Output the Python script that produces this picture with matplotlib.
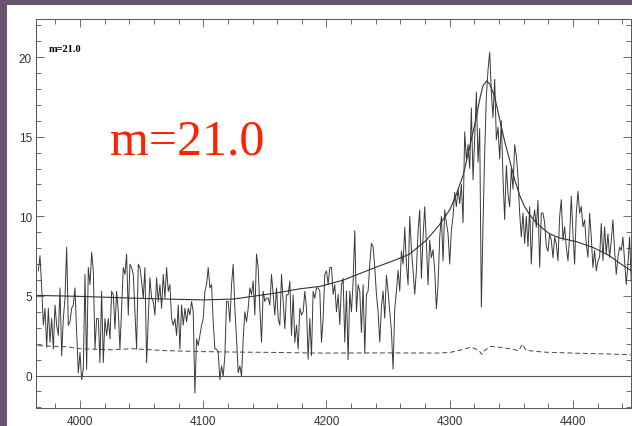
import numpy as np
import matplotlib
matplotlib.use("Agg")
import matplotlib.pyplot as plt
from matplotlib.patches import Rectangle
from matplotlib.ticker import MultipleLocator

# Observed spectrum: flux sampled on a regular pixel grid
WAVE_START = 3966.2     # Angstrom, first pixel
DISPERSION = 1.3514     # Angstrom per pixel

flux = [
    6.57, 7.53, 5.50, 3.16, 4.22, 1.77, 4.22, 2.09, 3.58, 1.66,
    4.43, 3.16, 2.52, 5.50, 1.24, 3.58, 4.86, 8.06, 3.16, 3.37,
    4.22, 4.43, 5.50, 2.73, 0.17, 1.45, -0.26, 0.38, 6.35, 0.38,
    6.78, 5.71, 7.74, 6.57, 1.66, 3.58, 3.58, 0.81, 5.29, 0.81,
    3.58, 2.52, 3.58, 2.30, 5.29, 5.07, 2.94, 5.29, 4.01, 1.66,
    4.22, 6.78, 6.35, 7.63, 3.80, 6.99, 6.78, 6.35, 4.01, 1.66,
    6.99, 6.78, 5.93, 4.86, 6.78, 0.81, 3.58, 6.14, 4.86, 4.65,
    3.80, 6.14, 4.65, 5.71, 4.22, 6.35, 4.86, 6.78, 5.29, 5.71,
    3.58, 3.16, 3.58, 2.52, 4.43, 1.66, 4.43, 3.16, 4.22, 3.37,
    4.22, 3.80, 4.65, 4.01, -1.11, 2.30, 1.88, 2.52, 3.16, 3.58,
    5.29, 5.71, 6.78, 5.50, 5.71, 3.37, 1.66, 1.66, 1.45, -0.26,
    0.60, -0.04, 1.24, 4.65, 4.65, 3.37, 5.71, 6.99, 4.22, 2.30,
    0.17, 0.60, -0.04, 2.30, 4.01, 3.37, 4.22, 5.50, 5.07, 5.93,
    3.80, 7.63, 6.78, 4.22, 2.09, 5.29, 4.65, 4.86, 4.86, 4.43,
    6.35, 5.07, 3.80, 5.50, 3.58, 3.16, 6.35, 4.65, 2.94, 5.07,
    5.07, 5.93, 2.52, 5.07, 2.09, 3.16, 1.66, 4.22, 3.80, 4.01,
    5.29, 4.22, 1.02, 3.58, 1.24, 5.29, 4.86, 5.50, 5.50, 5.29,
    2.09, 3.58, 6.35, 6.57, 5.71, 6.78,
    6.8, 5.1, 5.7, 4.0, 5.1, 3.2, 5.7, 6.1, 2.1, 5.3,
    1.0, 5.3, 4.0, 5.9, 9.1, 4.0, 5.7, 5.3, 2.7, 5.7,
    1.4, 5.1, 5.3, 7.0, 8.3, 8.1, 6.8, 5.1, 4.0, 2.1,
    4.3, 5.3, 3.6, 6.3, 5.3, 4.0, 2.8, 0.4, 4.2, 5.3,
    6.6, 5.3, 7.8, 7.0, 9.3,
    7.0, 5.7, 10.0, 7.9, 6.6, 5.1, 6.6, 9.1, 10.4, 6.1,
    8.7, 10.6, 8.3, 5.7, 8.5, 7.4, 7.9, 6.6, 4.2, 5.7,
    8.7, 10.0, 7.2, 10.4, 9.6, 8.9, 7.0, 9.1, 10.0, 11.5,
    10.6, 11.7, 10.8, 12.0, 9.6, 15.3, 13.6, 14.5, 13.0, 16.8,
    12.3, 14.9, 17.8, 13.4, 15.5,
    4.3, 9.5, 14.0, 17.5, 19.2, 20.3, 17.8, 16.2, 18.6, 14.8,
    15.6, 13.6, 16.0, 12.4, 9.8, 13.2, 11.4, 10.6, 13.0, 11.7,
    14.5, 13.8, 12.5, 10.2, 8.7, 10.2, 8.3, 10.0, 8.1, 10.6,
    7.0, 9.6, 10.4, 9.3, 11.0, 6.8, 10.2, 10.2, 9.6, 8.1,
    7.8, 8.9, 8.5, 7.4, 8.7,
    8.27, 7.21, 9.98, 11.04, 8.49, 9.34, 8.06, 7.21, 8.70, 11.26,
    8.91, 6.99, 10.19, 11.58, 10.19, 10.62, 9.34, 9.77, 8.27, 7.42,
    10.19, 8.70, 6.78, 7.85, 6.57, 7.21, 7.42, 9.55, 7.21, 9.34,
    7.63, 8.91, 7.42, 8.49, 9.77, 7.85, 6.35, 7.42, 8.06, 7.85,
    8.70, 7.21, 5.71, 6.99, 8.70, 5.93,
]

# Model fit (continuum + broad emission line)
fit_wave = [3965.4, 4000, 4043, 4070, 4100, 4124, 4140, 4159, 4178, 4195,
            4214, 4240, 4254, 4267, 4281, 4291, 4300, 4305, 4311, 4316,
            4321, 4324.5, 4327, 4330, 4332.5, 4336.5, 4340.5, 4344.6, 4348.7,
            4352.7, 4356.8, 4360.8, 4364.9, 4370, 4376, 4381, 4389, 4403,
            4416, 4424, 4430, 4438, 4447]
fit_flux = [5.03, 4.97, 4.86, 4.80, 4.75, 4.80, 4.97, 5.18, 5.44, 5.60,
            6.00, 6.80, 7.20, 7.60, 8.50, 9.40, 10.4, 11.3, 12.6, 14.3,
            16.0, 17.4, 18.2, 18.5, 18.3, 17.5, 16.1, 14.7, 13.5,
            12.3, 11.3, 10.6, 10.1, 9.6, 9.2, 8.9, 8.65, 8.4,
            8.05, 7.75, 7.5, 7.05, 6.6]

# 1-sigma error spectrum
err_wave = [3966, 3990, 4000, 4025, 4043, 4057, 4070, 4100, 4130, 4157,
            4184, 4200, 4250, 4290, 4300, 4308, 4313, 4318, 4324, 4326,
            4328, 4333, 4338, 4349, 4356, 4359, 4362, 4376, 4403, 4430, 4447]
err_flux = [1.88, 1.80, 1.68, 1.62, 1.68, 1.62, 1.56, 1.50, 1.47, 1.45,
            1.42, 1.41, 1.42, 1.41, 1.45, 1.58, 1.70, 1.77, 1.55, 1.32,
            1.55, 1.83, 1.80, 1.68, 1.56, 1.98, 1.58, 1.47, 1.40, 1.35, 1.30]

flux = np.asarray(flux)
wave = WAVE_START + DISPERSION * np.arange(flux.size)

W, H = 632, 427
fig = plt.figure(figsize=(W / 100, H / 100), dpi=100, facecolor="#6a5571")

# white page behind the plot
fig.add_artist(Rectangle((7 / W, 0), 1, (H - 6) / H, transform=fig.transFigure,
                         facecolor="white", edgecolor="none", zorder=0))

ax = fig.add_axes([36 / W, 1 - 409 / H, 595 / W, 389 / H])
ax.set_facecolor("white")

ax.plot(wave, flux, color="#3a3a3a", lw=0.7)
ax.plot(fit_wave, fit_flux, color="#333333", lw=0.8)
ax.plot(err_wave, err_flux, color="#444444", lw=0.7, dashes=(5, 3))
ax.axhline(0, color="#555555", lw=0.8)

ax.set_xlim(3964.3, 4447.1)
ax.set_ylim(-2.04, 22.39)

ax.xaxis.set_major_locator(MultipleLocator(100))
ax.xaxis.set_minor_locator(MultipleLocator(20))
ax.yaxis.set_major_locator(MultipleLocator(5))
ax.yaxis.set_minor_locator(MultipleLocator(1))

ax.tick_params(which="both", direction="in", top=True, right=True,
               color="#555555", width=0.6)
ax.tick_params(which="major", length=6)
ax.tick_params(which="minor", length=3.5)
ax.tick_params(axis="x", pad=5)
ax.tick_params(axis="y", pad=3)
for lab in ax.get_xticklabels() + ax.get_yticklabels():
    lab.set_family("Liberation Sans")
    lab.set_fontsize(8.5)
    lab.set_color("#333333")

for sp in ax.spines.values():
    sp.set_color("#555555")
    sp.set_linewidth(0.7)

fig.text(49 / W, 1 - 50 / H, "m=21.0", family="Liberation Serif",
         fontweight="bold", fontsize=7.5, color="black",
         va="center", ha="left")
fig.text(110 / W, 1 - 155 / H, "m=21.0", family="Liberation Serif",
         fontsize=36, color="#ff2200", va="baseline", ha="left")

fig.savefig("out.png", dpi=100, facecolor=fig.get_facecolor())
